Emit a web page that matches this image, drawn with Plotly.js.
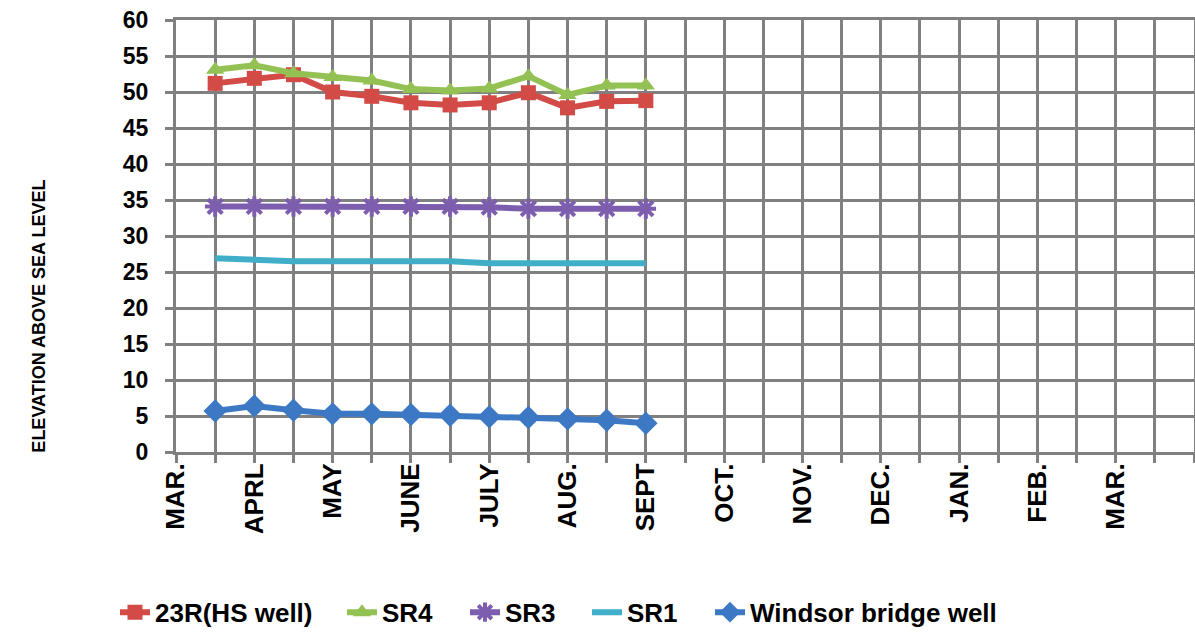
<!DOCTYPE html>
<html>
<head>
<meta charset="utf-8">
<script src="https://cdn.plot.ly/plotly-3.0.1.min.js"></script>
<style>
  html, body { margin: 0; padding: 0; background: #fff; }
  #chart { width: 1195px; height: 637px; }
</style>
</head>
<body>
<div id="chart"></div>
<script>
// Category positions (every gridline is a category; labels every other one)
const categoryLabels = ["MAR.", "", "APRL", "", "MAY", "", "JUNE", "", "JULY", "", "AUG.", "", "SEPT", "",
  "OCT.", "", "NOV.", "", "DEC.", "", "JAN.", "", "FEB.", "", "MAR.", "", ""];
const categoryIndex = [0,1,2,3,4,5,6,7,8,9,10,11,12,13,14,15,16,17,18,19,20,21,22,23,24,25,26];

// Sampling positions (categories 1..12)
const sampleX = [1, 2, 3, 4, 5, 6, 7, 8, 9, 10, 11, 12];

// Series values (elevation above sea level)
const s23R    = [51.2, 51.9, 52.4, 50.0, 49.4, 48.5, 48.2, 48.5, 49.9, 47.8, 48.7, 48.8];
const sSR4    = [53.1, 53.7, 52.6, 52.1, 51.6, 50.4, 50.2, 50.5, 52.2, 49.6, 50.9, 50.9];
const sSR3    = [34.1, 34.1, 34.1, 34.1, 34.1, 34.1, 34.1, 34.0, 33.8, 33.8, 33.8, 33.8];
const sSR1    = [26.9, 26.6, 26.5, 26.5, 26.5, 26.4, 26.5, 26.2, 26.2, 26.2, 26.2, 26.2];
const sWindsor = [5.7, 6.4, 5.8, 5.3, 5.3, 5.2, 5.1, 4.9, 4.8, 4.6, 4.4, 4.0];

const FONT = "'Liberation Sans', Arial, sans-serif";
const GRID = "#808080";

const traces = [
  { name: "23R(HS well)", legend: "legend", x: sampleX, y: s23R, mode: "lines+markers",
    line: { color: "#D24B46", width: 6 },
    marker: { symbol: "square", size: 15, color: "#D24B46" } },
  { name: "SR4", legend: "legend2", x: sampleX, y: sSR4, mode: "lines+markers",
    line: { color: "#93C154", width: 6 },
    marker: { symbol: "triangle-up", size: 16, color: "#93C154" } },
  { name: "SR3", legend: "legend3", x: sampleX, y: sSR3, mode: "lines+markers",
    line: { color: "#7D5DAE", width: 6 },
    marker: { symbol: "asterisk-open", size: 17, color: "#7D5DAE", line: { color: "#7D5DAE", width: 4 } } },
  { name: "SR1", legend: "legend4", x: sampleX, y: sSR1, mode: "lines",
    line: { color: "#41AEC8", width: 6 } },
  { name: "Windsor bridge well", legend: "legend5", x: sampleX, y: sWindsor, mode: "lines+markers",
    line: { color: "#3C78C3", width: 6 },
    marker: { symbol: "diamond", size: 18, color: "#3C78C3" } }
];

const plotL = 176, plotW = 1018;
function legendAt(px) {
  return {
    orientation: "h", x: (px - plotL) / plotW, xanchor: "left", y: -0.371, yanchor: "middle",
    font: { family: FONT, size: 26, color: "#000", weight: "bold" },
    bgcolor: "rgba(0,0,0,0)", borderwidth: 0
  };
}

const layout = {
  width: 1195, height: 637,
  margin: { l: 176, r: 1, t: 20, b: 183 },
  paper_bgcolor: "#fff", plot_bgcolor: "#fff",
  showlegend: true,
  font: { family: FONT, color: "#000" },
  xaxis: {
    range: [0, 26], tickmode: "array", tickvals: categoryIndex, ticktext: categoryLabels,
    tickangle: -90, showgrid: true, gridcolor: GRID, gridwidth: 3,
    showline: true, linecolor: GRID, linewidth: 3, mirror: true,
    ticks: "outside", ticklen: 8, tickwidth: 3, tickcolor: GRID,
    ticklabelstandoff: -10,
    tickfont: { family: FONT, size: 26, color: "#000", weight: "bold" },
    zeroline: false, fixedrange: true
  },
  yaxis: {
    range: [0, 60], dtick: 5, tick0: 0,
    showgrid: true, gridcolor: GRID, gridwidth: 3,
    showline: true, linecolor: GRID, linewidth: 3, mirror: true,
    ticks: "outside", ticklen: 8, tickwidth: 3, tickcolor: GRID,
    ticklabelstandoff: 12,
    tickfont: { family: FONT, size: 23, color: "#000", weight: "bold" },
    zeroline: false, fixedrange: true
  },
  legend: legendAt(115),
  legend2: legendAt(342),
  legend3: legendAt(465),
  legend4: legendAt(587),
  legend5: legendAt(710),
  annotations: [{
    text: "ELEVATION ABOVE SEA LEVEL", textangle: -90, showarrow: false,
    xref: "paper", yref: "paper", x: (39 - plotL) / plotW, y: (454 - 318) / 434,
    xanchor: "center", yanchor: "middle",
    font: { family: FONT, size: 18, color: "#000", weight: "bold" }
  }]
};

Plotly.newPlot("chart", traces, layout, { staticPlot: true, displayModeBar: false });
</script>
</body>
</html>
